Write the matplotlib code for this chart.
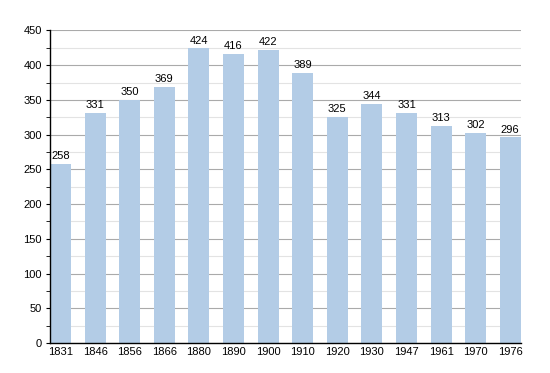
import matplotlib.pyplot as plt
from matplotlib.ticker import MultipleLocator

# Population par année de recensement
annees = ['1831', '1846', '1856', '1866', '1880', '1890', '1900',
          '1910', '1920', '1930', '1947', '1961', '1970', '1976']
population = [258, 331, 350, 369, 424, 416, 422, 389, 325, 344, 331, 313, 302, 296]

plt.rcParams['font.family'] = 'Liberation Sans'
plt.rcParams['font.size'] = 8

fig = plt.figure(figsize=(5.5, 3.73), dpi=100)
ax = fig.add_axes([0.0909, 0.0804, 0.856, 0.838])

largeur = 0.61
pos = list(range(len(annees)))
barres = ax.bar(pos, population, width=largeur, align='edge', color='#b3cce6', zorder=2)
for b, v in zip(barres, population):
    ax.text(b.get_x() + largeur / 2, v + 4, str(v), ha='center', va='bottom', fontsize=8)

ax.set_xlim(0, len(annees) - 1 + largeur)
ax.set_xticks([p + largeur / 2 for p in pos])
ax.set_xticklabels(annees)
ax.tick_params(axis='x', length=0, pad=3)

ax.set_ylim(0, 450)
ax.yaxis.set_major_locator(MultipleLocator(50))
ax.yaxis.set_minor_locator(MultipleLocator(25))
ax.tick_params(axis='y', which='major', length=3, pad=3)
ax.tick_params(axis='y', which='minor', length=3)
ax.grid(axis='y', which='major', color='#aaaaaa', linewidth=0.8, zorder=0)
ax.grid(axis='y', which='minor', color='#e3e3e3', linewidth=0.8, zorder=0)

ax.spines['top'].set_visible(False)
ax.spines['right'].set_visible(False)
ax.spines['left'].set_linewidth(1)
ax.spines['bottom'].set_linewidth(1)
ax.set_axisbelow(True)

fig.savefig('out.png', dpi=100)
